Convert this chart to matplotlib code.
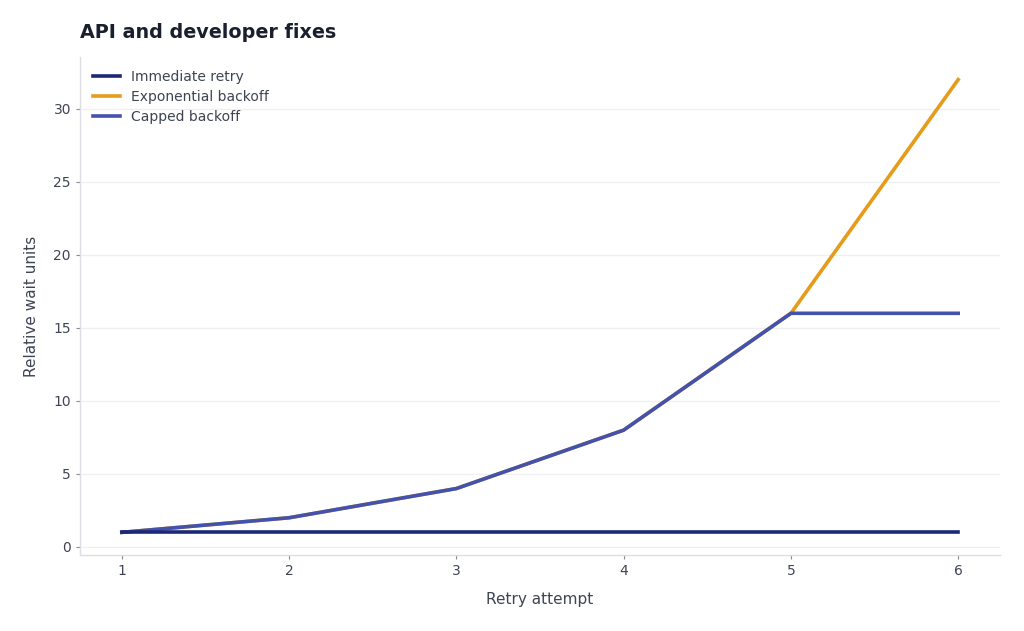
import matplotlib
matplotlib.use("Agg")
import matplotlib.pyplot as plt

attempts = [1, 2, 3, 4, 5, 6]
immediate = [1, 1, 1, 1, 1, 1]
exponential = [1, 2, 4, 8, 16, 32]
capped = [1, 2, 4, 8, 16, 16]

plt.rcParams['font.family'] = ['DejaVu Sans']
fig = plt.figure(figsize=(10.24, 6.31), dpi=100)
ax = fig.add_axes([80/1024, 1-555/631, 920/1024, 498/631])

text_c = '#3f4454'
ax.plot(attempts, immediate, color='#1c2778', lw=2.6, label='Immediate retry', zorder=4)
ax.plot(attempts, exponential, color='#e49c1a', lw=2.6, label='Exponential backoff', zorder=2)
ax.plot(attempts, capped, color='#4352ad', lw=2.6, label='Capped backoff', zorder=3)

ax.set_yticks([0, 5, 10, 15, 20, 25, 30])
ax.set_xticks(attempts)
ax.grid(axis='y', color='#eeeff2', lw=0.9)
ax.set_axisbelow(True)
for s in ['top', 'right']:
    ax.spines[s].set_visible(False)
for s in ['left', 'bottom']:
    ax.spines[s].set_color('#dcdee4')
    ax.spines[s].set_linewidth(1.0)
ax.tick_params(colors='#888b94', labelcolor=text_c, labelsize=10, length=3, width=0.8)
ax.set_xlabel('Retry attempt', color=text_c, fontsize=11, labelpad=10)
ax.set_ylabel('Relative wait units', color=text_c, fontsize=11, labelpad=10)
fig.text(80/1024, 1-33/631, 'API and developer fixes', fontsize=13.8, fontweight='bold',
         color='#1a1f2e', va='center', ha='left')
leg = ax.legend(loc='upper left', frameon=False, fontsize=10, labelcolor=text_c,
                handlelength=2.0, borderaxespad=0.5, labelspacing=0.45)
fig.savefig('out.png', dpi=100)
